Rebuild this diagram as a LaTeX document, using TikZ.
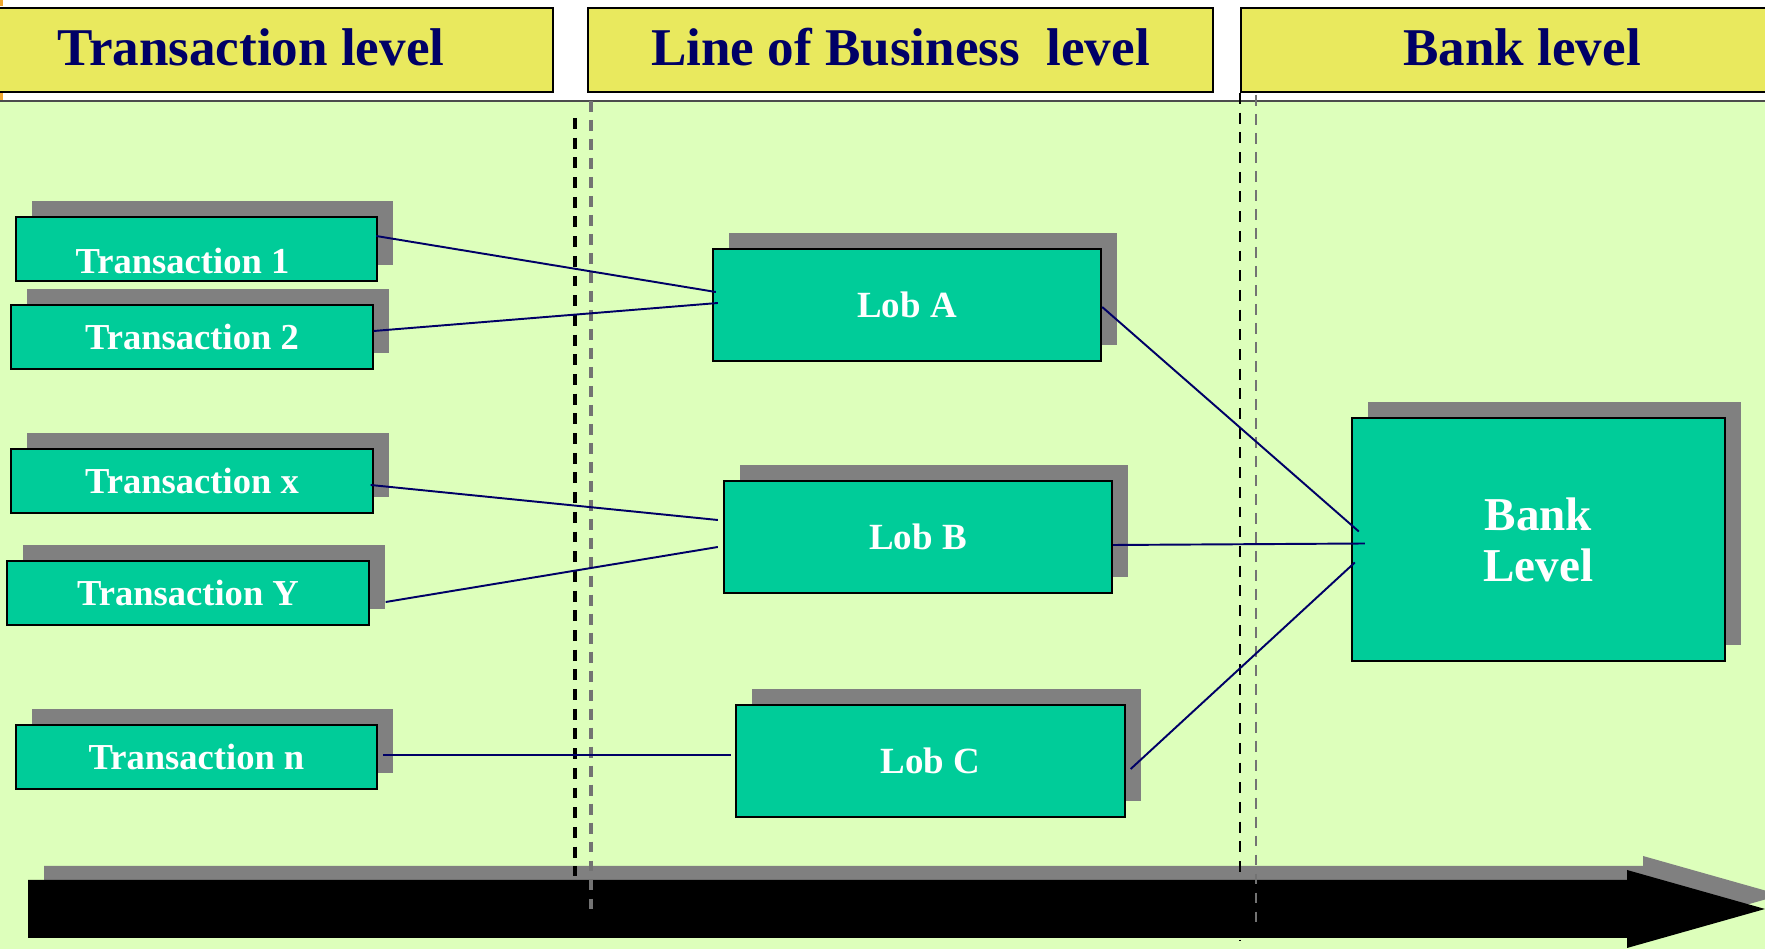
\documentclass[tikz,border=0pt]{standalone}
\usepackage{fontspec}
\setmainfont{Liberation Serif}
\usetikzlibrary{shadows}

\definecolor{hdryellow}{HTML}{E9E95E}
\definecolor{hdrnavy}{HTML}{000066}
\definecolor{bggreen}{HTML}{DDFFBB}
\definecolor{boxteal}{HTML}{00CC99}
\definecolor{shadegray}{HTML}{808080}
\definecolor{linknavy}{HTML}{000066}
\definecolor{markorange}{HTML}{F0A830}

\begin{document}
\begin{tikzpicture}[x=0.01cm,y=-0.01cm,
  hdr/.style={draw=black,line width=0.6pt,fill=hdryellow,inner sep=0pt,
    text=hdrnavy,font=\fontsize{15.1}{18}\selectfont\bfseries,minimum height=0.84cm},
  boxbase/.style={draw=black,line width=0.6pt,fill=boxteal,text=white,inner sep=0pt,
    general shadow={fill=shadegray,shadow xshift=0.16cm,shadow yshift=0.16cm}},
  tbox/.style={boxbase,font=\fontsize{10.4}{12}\selectfont\bfseries,
    minimum width=3.61cm,minimum height=0.64cm},
  lbox/.style={boxbase,font=\fontsize{10.5}{12}\selectfont\bfseries,
    minimum width=3.88cm,minimum height=1.12cm},
  bbox/.style={boxbase,font=\fontsize{13.4}{14.5}\selectfont\bfseries,align=center,
    minimum width=3.73cm,minimum height=2.43cm},
  link/.style={draw=linknavy,line width=0.55pt},
  sepdark/.style={draw=black,dash pattern=on 3.1pt off 2.5pt},
  seplight/.style={draw=shadegray!90!black,dash pattern=on 3.1pt off 2.3pt}
]
\useasboundingbox (0,0) rectangle (1765,949);
\clip (0,0) rectangle (1765,949);

% page background and working area
\fill[white] (0,0) rectangle (1765,949);
\fill[bggreen] (0,102) rectangle (1765,949);

% column headers
\node[hdr,minimum width=5.63cm] (htx) at (271.5,50) {\raisebox{0.03cm}[\height][0pt]{Transaction level}\kern0.41cm};
\node[hdr,minimum width=6.25cm] (hlob) at (900.5,50) {\raisebox{0.03cm}[\height][0pt]{Line of Business~~level}};
\node[hdr,minimum width=5.34cm] (hbank) at (1508,50) {\kern0.28cm\raisebox{0.03cm}[\height][0pt]{Bank level}};
\draw[black!70,line width=0.6pt] (0,101) -- (1765,101);
\fill[markorange] (0,0) rectangle (3,6);
\fill[markorange] (0,93) rectangle (3,100);

% time axis arrow with its shadow
\fill[shadegray] (44,866) -- (1643,866) -- (1643,856) -- (1781,895) -- (1643,934) -- (1643,924) -- (44,924) -- cycle;
\fill[black] (28,880) -- (1627,880) -- (1627,870) -- (1765,909) -- (1627,948) -- (1627,938) -- (28,938) -- cycle;

% level separators
\draw[sepdark,line width=1.15pt] (575,118) -- (575,876);
\draw[seplight,line width=1.1pt] (591,101) -- (591,917);
\draw[sepdark,line width=0.55pt] (1240,93) -- (1240,940);
\draw[seplight,line width=0.55pt] (1256,95) -- (1256,929);

% transactions
\node[tbox] (t1) at (196.5,249) {\raisebox{-0.12cm}[\height][0pt]{Transaction 1}\kern0.28cm};
\node[tbox] (t2) at (192,337) {Transaction 2};
\node[tbox] (tx) at (192,481) {Transaction x};
\node[tbox] (ty) at (188,593) {Transaction Y};
\node[tbox] (tn) at (196.5,757) {Transaction n};

% lines of business
\node[lbox] (la) at (907,305) {Lob A};
\node[lbox] (lb) at (918,537) {Lob B};
\node[lbox] (lc) at (930.5,761) {Lob C};

% bank
\node[bbox] (bank) at (1538.5,539.5) {Bank\\Level};

% aggregation links
\draw[link] ([shift={(-2,-13)}]t1.east) -- ([shift={(4,-13)}]la.west);
\draw[link] ([shift={(0,-6)}]t2.east) -- ([shift={(6,-2)}]la.west);
\draw[link] ([shift={(-3,4)}]tx.east) -- ([shift={(-5,-17)}]lb.west);
\draw[link] ([shift={(16,9)}]ty.east) -- ([shift={(-5,10)}]lb.west);
\draw[link] ([shift={(5,-2)}]tn.east) -- ([shift={(-4,-6)}]lc.west);
\draw[link] ([shift={(0,2)}]la.east) -- ([shift={(8,-8)}]bank.west);
\draw[link] ([shift={(0,8)}]lb.east) -- ([shift={(14,4)}]bank.west);
\draw[link] ([shift={(5,8)}]lc.east) -- ([shift={(4,23)}]bank.west);
\end{tikzpicture}
\end{document}
